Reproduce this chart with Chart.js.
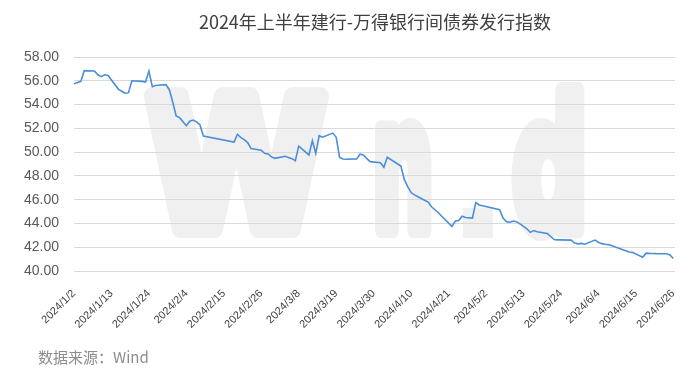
<!DOCTYPE html>
<html>
<head>
<meta charset="utf-8">
<script src="https://cdn.jsdelivr.net/npm/chart.js@4.4.1/dist/chart.umd.min.js"></script>
<style>
  html, body { margin: 0; padding: 0; background: #fff; }
  #wrap { width: 700px; height: 377px; }
</style>
</head>
<body>
<div id="wrap"><canvas id="indexChart" width="700" height="377"></canvas></div>
<script>
const titleText = "2024年上半年建行-万得银行间债券发行指数";
const sourceText = "数据来源：Wind";

// trading days (M/D, 2024) and index values
const tradeDates = [
  "1/2", "1/3", "1/4", "1/5", "1/8", "1/9", "1/10", "1/11", "1/12",
  "1/15", "1/16", "1/17", "1/18", "1/19", "1/22", "1/23", "1/24", "1/25", "1/26",
  "1/29", "1/30", "1/31", "2/1", "2/2", "2/4", "2/5", "2/6", "2/7", "2/8", "2/9",
  "2/18", "2/19", "2/20", "2/21", "2/22", "2/23", "2/26", "2/27", "2/28", "2/29", "3/1",
  "3/4", "3/5", "3/6", "3/7", "3/8", "3/11", "3/12", "3/13", "3/14", "3/15",
  "3/18", "3/19", "3/20", "3/21", "3/22", "3/25", "3/26", "3/27", "3/28", "3/29",
  "4/1", "4/2", "4/3", "4/7", "4/8", "4/9", "4/10", "4/11", "4/12",
  "4/15", "4/16", "4/17", "4/18", "4/19", "4/22", "4/23", "4/24", "4/25", "4/26",
  "4/28", "4/29", "4/30", "5/6", "5/7", "5/8", "5/9", "5/10", "5/11",
  "5/13", "5/14", "5/15", "5/16", "5/17", "5/20", "5/21", "5/22", "5/23", "5/24",
  "5/27", "5/28", "5/29", "5/30", "5/31", "6/3", "6/4", "6/5", "6/6", "6/7",
  "6/11", "6/12", "6/13", "6/14", "6/17", "6/18", "6/19", "6/20", "6/21",
  "6/24", "6/25", "6/26"
];
const indexValues = [
  55.75, 55.85, 55.95, 56.85, 56.82, 56.50, 56.35, 56.50, 56.45,
  55.30, 55.12, 54.95, 55.00, 56.00, 55.95, 55.90, 56.82, 55.50, 55.60,
  55.67, 55.25, 54.20, 53.05, 52.90, 52.22, 52.60, 52.70, 52.55, 52.28, 51.36,
  50.85, 51.50, 51.22, 51.05, 50.80, 50.30, 50.15, 49.90, 49.85, 49.60, 49.48,
  49.65, 49.55, 49.45, 49.28, 50.50, 49.76, 50.96, 49.90, 51.38, 51.25,
  51.60, 51.25, 49.55, 49.42, 49.40, 49.43, 49.82, 49.76, 49.45, 49.20,
  49.10, 48.72, 49.56, 48.83, 47.70, 47.10, 46.60, 46.40, 46.25,
  45.80, 45.40, 45.15, 44.90, 44.60, 43.75, 44.20, 44.25, 44.60, 44.50,
  44.45, 45.75, 45.55, 45.15, 44.45, 44.15, 44.10, 44.20, 44.15,
  43.75, 43.55, 43.25, 43.40, 43.30, 43.15, 42.90, 42.65, 42.62, 42.62,
  42.60, 42.35, 42.28, 42.32, 42.25, 42.60, 42.42, 42.30, 42.25, 42.22,
  41.80, 41.70, 41.60, 41.57, 41.15, 41.50, 41.48, 41.47, 41.46,
  41.45, 41.35, 41.05
];

// axis: calendar days from 2024/1/2, a label every 11 days
const axisDays = [0, 11, 22, 33, 44, 55, 66, 77, 88, 99, 110, 121, 132, 143, 154, 165, 176];
const yMin = 40, yMax = 58, yStep = 2;

const startDate = new Date(2024, 0, 2);
const DAY = 86400000;

function dayOffset(md) {
  const [m, d] = md.split("/").map(Number);
  return Math.round((new Date(2024, m - 1, d) - startDate) / DAY);
}
function dayLabel(off) {
  const dt = new Date(startDate.getTime() + off * DAY);
  return `${dt.getFullYear()}/${dt.getMonth() + 1}/${dt.getDate()}`;
}

const points = tradeDates.map((d, i) => ({ x: dayOffset(d), y: indexValues[i] }));

// white bg + faint "Wind" watermark behind the grid
const watermark = {
  id: "watermark",
  beforeDraw(chart) {
    const ctx = chart.ctx;
    const sw = 18; // stroke thickens the glyphs
    ctx.save();
    ctx.fillStyle = "#fff";
    ctx.fillRect(0, 0, chart.width, chart.height);
    ctx.fillStyle = "#f0f0f0";
    ctx.strokeStyle = "#f0f0f0";
    ctx.lineWidth = sw;
    ctx.lineJoin = "round";
    ctx.font = 'bold 182px "DejaVu Sans"';
    ctx.textBaseline = "alphabetic";
    const glyphs = [["W", 138, 197], ["n", 363, 80], ["d", 503, 94]];
    glyphs.forEach(([g, x, w]) => {
      const m = ctx.measureText(g).width;
      ctx.save();
      ctx.translate(x + sw / 2, 238 - sw / 2);
      ctx.scale((w - sw) / m, 1);
      ctx.strokeText(g, 0, 0);
      ctx.fillText(g, 0, 0);
      ctx.restore();
    });
    // the dot of the logo
    ctx.fillRect(463, 208, 30, 30);
    ctx.restore();
  }
};

const texts = {
  id: "texts",
  afterDraw(chart) {
    const ctx = chart.ctx;
    ctx.save();
    ctx.fillStyle = "#404040";
    ctx.font = '18px "Noto Sans CJK SC"';
    ctx.textAlign = "center";
    ctx.textBaseline = "middle";
    ctx.fillText(titleText, 375, 22);
    ctx.fillStyle = "#8c8c8c";
    ctx.font = '15px "Noto Sans CJK SC"';
    ctx.textAlign = "left";
    ctx.fillText(sourceText, 38, 357);
    ctx.restore();
  }
};

new Chart(document.getElementById("indexChart"), {
  type: "line",
  data: {
    datasets: [
      {
        data: points,
        borderColor: "#4a8fd8",
        borderWidth: 1.6,
        pointRadius: 0,
        tension: 0,
        fill: false,
      },
    ],
  },
  options: {
    responsive: false,
    animation: false,
    layout: { padding: { top: 57, right: 25, left: 0, bottom: 0 } },
    plugins: {
      legend: { display: false },
      tooltip: { enabled: false },
    },
    scales: {
      x: {
        type: "linear",
        min: 0,
        max: 176.5,
        afterBuildTicks: (scale) => {
          scale.ticks = axisDays.map((v) => ({ value: v }));
        },
        afterFit: (scale) => { scale.height = 106; },
        grid: { display: false },
        border: { display: false },
        ticks: {
          autoSkip: false,
          minRotation: 45,
          maxRotation: 45,
          padding: 8,
          color: "#404040",
          font: { family: '"Liberation Sans"', size: 11 },
          callback: (v) => dayLabel(v),
        },
      },
      y: {
        min: yMin,
        max: yMax,
        afterFit: (scale) => { scale.width = 74; },
        grid: { color: "#d9d9d9", lineWidth: 1, drawTicks: false },
        border: { display: false },
        ticks: {
          stepSize: yStep,
          padding: 15,
          color: "#595959",
          font: { family: '"Liberation Sans"', size: 14 },
          callback: (v) => v.toFixed(2),
        },
      },
    },
  },
  plugins: [watermark, texts],
});
</script>
</body>
</html>
